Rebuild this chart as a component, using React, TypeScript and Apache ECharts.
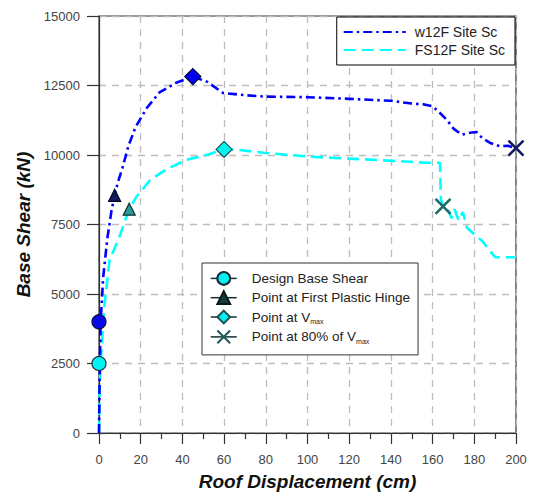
import React, { useEffect, useRef } from "react";
import * as echarts from "echarts";

const xTicks = [0, 20, 40, 60, 80, 100, 120, 140, 160, 180, 200];
const yTicks = [0, 2500, 5000, 7500, 10000, 12500, 15000];

const w12Disp = [0, 0.3, 0.8, 2, 4, 6, 7.5, 9, 11.5, 14, 17.5, 23, 29, 37, 45, 52, 59.5, 70, 80, 100, 120, 140, 150, 156, 160, 163, 167, 170, 174, 178, 181, 184, 188, 192, 196, 200];
const w12Shear = [0, 2000, 4000, 5600, 7000, 8000, 8550, 9000, 9600, 10300, 11000, 11700, 12250, 12600, 12820, 12630, 12230, 12150, 12100, 12080, 12020, 11950, 11850, 11820, 11750, 11550, 11250, 10950, 10730, 10800, 10830, 10600, 10420, 10320, 10330, 10250];

const fsDisp = [0, 0.3, 0.8, 2.5, 5, 10, 14.5, 18, 24.5, 32, 42, 52, 60, 66, 79, 101, 120, 141, 157, 163.5, 164, 165, 167, 169, 170.5, 172.5, 174.5, 176.5, 180, 184, 190, 200];
const fsShear = [0, 1500, 2500, 4500, 6200, 7100, 8050, 8500, 9100, 9470, 9830, 10010, 10200, 10190, 10080, 9940, 9870, 9790, 9720, 9720, 8400, 8150, 8120, 7720, 8050, 7650, 7950, 7380, 7150, 6890, 6320, 6320];

const designPts = [[0, 4000], [0, 2500]];
const hingePts = [[7.5, 8550], [14.5, 8050]];
const vmaxPts = [[45, 12820], [60, 10200]];
const p80Pts = [[200, 10250], [165, 8150]];

const seriesNames = ["w12F Site Sc", "FS12F Site Sc"];
const markerNames = ["Design Base Shear", "Point at First Plastic Hinge", "Point at Vmax", "Point at 80% of Vmax"];

const zip = (a: number[], b: number[]) => a.map((v, i) => [v, b[i]]);

const FONT = "'Liberation Sans', Arial, sans-serif";

export default function App() {
  const ref = useRef<HTMLDivElement>(null);
  useEffect(() => {
    if (!ref.current) return;
    const chart = echarts.init(ref.current, null, { renderer: "svg" });
    const blueDark = "#121a5c";
    const tealDark = "#1d5a5a";
    const option: any = {
      animation: false,
      backgroundColor: "#fff",
      textStyle: { fontFamily: FONT },
      grid: { left: 99, right: 17, top: 16, bottom: 62, show: true, borderColor: "#333", borderWidth: 1.2, backgroundColor: "transparent" },
      legend: [
        {
          data: seriesNames,
          orient: "vertical",
          right: 18,
          top: 17,
          itemWidth: 62,
          itemHeight: 14,
          itemGap: 4,
          padding: [8, 10, 8, 6],
          borderColor: "#000",
          borderWidth: 1,
          backgroundColor: "#fff",
          itemStyle: { opacity: 0, borderWidth: 0 },
          textStyle: { fontSize: 14, color: "#222", fontFamily: FONT, padding: [0, 0, 0, 4] },
        },
        {
          data: markerNames,
          orient: "vertical",
          left: 202,
          top: 263,
          itemWidth: 26,
          itemHeight: 16,
          itemGap: 4.5,
          padding: [8, 8, 10, 8],
          borderColor: "#333",
          borderWidth: 1,
          backgroundColor: "#fff",
          lineStyle: { color: "#103030", width: 1.5, type: "solid", opacity: 1 },
          formatter: (n: string) => (n === "Point at Vmax" ? "Point at V{sub|max}" : n === "Point at 80% of Vmax" ? "Point at 80% of V{sub|max}" : n),
          textStyle: {
            fontSize: 13.5,
            color: "#222",
            fontFamily: FONT,
            padding: [0, 0, 0, 10],
            rich: { sub: { fontSize: 7, color: "#222", fontFamily: FONT, verticalAlign: "bottom", padding: [9, 0, 0, 0] } },
          },
        },
      ],
      xAxis: {
        type: "value",
        min: 0,
        max: 200,
        interval: 20,
        name: "Roof Displacement (cm)",
        nameLocation: "middle",
        nameGap: 39,
        nameTextStyle: { fontSize: 19, fontWeight: "bold", fontStyle: "italic", color: "#111", fontFamily: FONT },
        axisLine: { show: true, onZero: false, lineStyle: { color: "#333", width: 1.2 } },
        axisTick: { show: true, inside: false, length: 11, lineStyle: { color: "#333", width: 1.2 } },
        minorTick: { show: true, splitNumber: 2, length: 6, lineStyle: { color: "#333", width: 1.2 } },
        axisLabel: { fontSize: 13, color: "#444", margin: 20, fontFamily: FONT, formatter: (v: number) => (xTicks.includes(v) ? String(v) : "") },
        splitLine: { show: true, lineStyle: { color: "#bdbdbd", type: [7, 6], width: 1.3 } },
      },
      yAxis: {
        type: "value",
        min: 0,
        max: 15000,
        interval: 2500,
        name: "Base Shear (kN)",
        nameLocation: "middle",
        nameGap: 66,
        nameTextStyle: { fontSize: 19, fontWeight: "bold", fontStyle: "italic", color: "#111", fontFamily: FONT },
        axisLine: { show: true, lineStyle: { color: "#333", width: 1.2 } },
        axisTick: { show: true, inside: false, length: 12, lineStyle: { color: "#333", width: 1.2 } },
        axisLabel: { fontSize: 13, color: "#444", margin: 19, fontFamily: FONT, formatter: (v: number) => (yTicks.includes(v) ? String(v) : "") },
        splitLine: { show: true, lineStyle: { color: "#bdbdbd", type: [7, 6], width: 1.3 } },
      },
      series: [
        {
          name: seriesNames[0],
          type: "line",
          data: zip(w12Disp, w12Shear),
          symbol: "none",
          showSymbol: false,
          smooth: false,
          itemStyle: { color: "#0000ff" },
          lineStyle: { color: "#0000ff", width: 2.6, type: [9, 4, 2.5, 4] },
          z: 3,
        },
        {
          name: seriesNames[1],
          type: "line",
          data: zip(fsDisp, fsShear),
          symbol: "none",
          showSymbol: false,
          itemStyle: { color: "#00ffff" },
          lineStyle: { color: "#00ffff", width: 2.6, type: [12, 6] },
          z: 2,
        },
        {
          name: markerNames[0],
          type: "line",
          symbol: "circle",
          symbolSize: 14,
          showSymbol: true,
          lineStyle: { opacity: 0 },
          itemStyle: { color: "#00f2f2", borderColor: "#1a2a3a", borderWidth: 1.2 },
          data: [
            { value: designPts[0], itemStyle: { color: "#0a0ae8", borderColor: "#0a0a40" } },
            { value: designPts[1] },
          ],
          z: 5,
        },
        {
          name: markerNames[1],
          type: "line",
          symbol: "triangle",
          symbolSize: 12,
          showSymbol: true,
          lineStyle: { opacity: 0 },
          itemStyle: { color: "#143c3c", borderColor: "#0a1a1a", borderWidth: 1.2 },
          data: [
            { value: hingePts[0], itemStyle: { color: blueDark, borderColor: "#000020" } },
            { value: hingePts[1], itemStyle: { color: "#2a9a9a", borderColor: "#103030" } },
          ],
          z: 5,
        },
        {
          name: markerNames[2],
          type: "line",
          symbol: "diamond",
          symbolSize: 16,
          showSymbol: true,
          lineStyle: { opacity: 0 },
          itemStyle: { color: "#00f2f2", borderColor: "#205050", borderWidth: 1.2 },
          data: [
            { value: vmaxPts[0], itemStyle: { color: "#0000ee", borderColor: "#000040" } },
            { value: vmaxPts[1] },
          ],
          z: 5,
        },
        {
          name: markerNames[3],
          type: "line",
          symbol: "path://M0,0L10,10M10,0L0,10",
          symbolSize: 15,
          showSymbol: true,
          lineStyle: { opacity: 0 },
          itemStyle: { color: "transparent", borderColor: tealDark, borderWidth: 2.6 },
          data: [
            { value: p80Pts[0], itemStyle: { borderColor: blueDark } },
            { value: p80Pts[1], itemStyle: { borderColor: "#206a6a" } },
          ],
          z: 5,
        },
      ],
    };
    chart.setOption(option);
    return () => chart.dispose();
  }, []);
  return <div ref={ref} style={{ width: 533, height: 496, position: "absolute", left: 0, top: 0 }} />;
}
